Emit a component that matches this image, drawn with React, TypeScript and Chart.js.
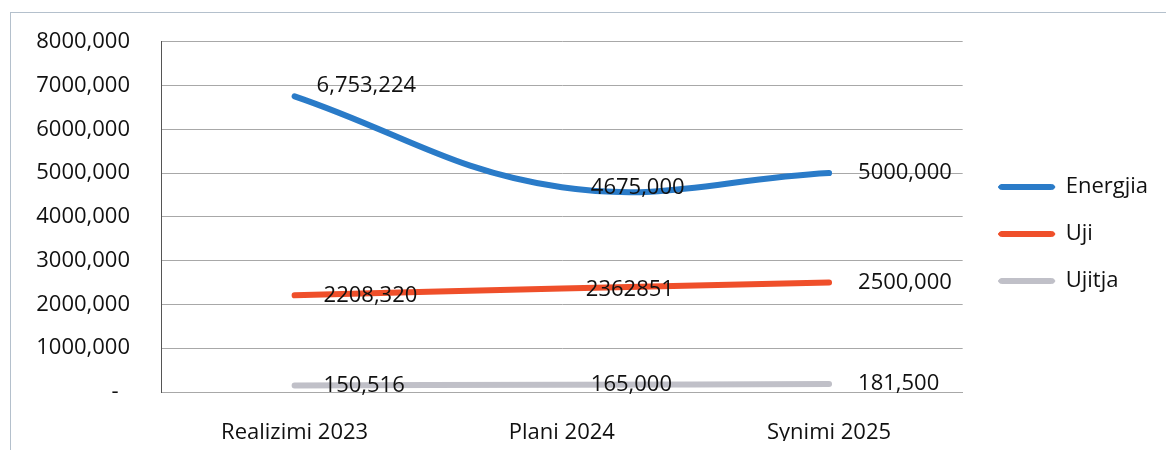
import { useEffect, useRef } from "react";
import { Chart, registerables } from "chart.js";

Chart.register(...registerables);

// ---- data ----
const categories = ["Realizimi 2023", "Plani 2024", "Synimi 2025"];
const seriesNames = ["Energjia", "Uji", "Ujitja"];
const energjia = [6753224, 4675000, 5000000];
const uji = [2208320, 2362851, 2500000];
const ujitja = [150516, 165000, 181500];
const energjiaLabels = ["6,753,224", "4675,000", "5000,000"];
const ujiLabels = ["2208,320", "2362851", "2500,000"];
const ujitjaLabels = ["150,516", "165,000", "181,500"];
const yTickLabels = [
  "-  ",
  "1000,000",
  "2000,000",
  "3000,000",
  "4000,000",
  "5000,000",
  "6000,000",
  "7000,000",
  "8000,000",
];

// ---- styles ----
const FONT = "'Open Sans', 'Noto Sans', sans-serif";
const TEXT = "#111111";
const COLORS = ["#2a7bc8", "#ef4f2a", "#c0c0c8"];
const LABEL_SETS = [energjiaLabels, ujiLabels, ujitjaLabels];
const LABEL_DX = 29;
const LABEL_NUDGE: Record<string, [number, number]> = {
  "0-0": [-7, -11],
  "1-1": [-5, 1],
};

const valueLabels = {
  id: "valueLabels",
  afterDatasetsDraw(chart: any) {
    const ctx = chart.ctx;
    ctx.save();
    ctx.font = `22px ${FONT}`;
    ctx.fillStyle = TEXT;
    ctx.textAlign = "left";
    ctx.textBaseline = "middle";
    chart.data.datasets.forEach((_ds: any, di: number) => {
      const meta = chart.getDatasetMeta(di);
      const labels = LABEL_SETS[di];
      meta.data.forEach((pt: any, i: number) => {
        const [ndx, ndy] = LABEL_NUDGE[`${di}-${i}`] || [0, 0];
        ctx.fillText(labels[i], pt.x + LABEL_DX + ndx, pt.y + ndy);
      });
    });
    ctx.restore();
  },
};

export default function App() {
  const ref = useRef<HTMLCanvasElement | null>(null);

  useEffect(() => {
    document.documentElement.style.overflow = "hidden";
    document.body.style.overflow = "hidden";
    if (!ref.current) return;
    const values = [energjia, uji, ujitja];
    const chart = new Chart(ref.current, {
      type: "line",
      data: {
        labels: categories,
        datasets: seriesNames.map((name, i) => ({
          label: name,
          data: values[i],
          borderColor: COLORS[i],
          backgroundColor: COLORS[i],
          borderWidth: 6,
          borderCapStyle: "round",
          borderJoinStyle: "round",
          tension: 0.4,
          pointRadius: 0,
          pointHoverRadius: 0,
          yAxisID: "y",
        })),
      },
      options: {
        responsive: false,
        animation: false,
        layout: { padding: { left: 0, top: 14, right: 8, bottom: 9 } },
        plugins: {
          tooltip: { enabled: false },
          legend: {
            position: "right",
            labels: {
              boxWidth: 56,
              boxHeight: 5,
              padding: 25,
              color: TEXT,
              font: { family: FONT, size: 22 },
              useBorderRadius: true,
              borderRadius: 3,
              generateLabels: (c: any) =>
                Chart.defaults.plugins.legend.labels
                  .generateLabels(c)
                  .map((it: any) => ({
                    ...it,
                    fillStyle: it.strokeStyle,
                    lineWidth: 1,
                    borderRadius: 3,
                  })),
            },
          },
        },
        scales: {
          x: {
            type: "category",
            offset: true,
            grid: { display: false },
            border: { display: true, color: "#a8a8a8" },
            ticks: {
              color: TEXT,
              padding: 20,
              font: { family: FONT, size: 22 },
              maxRotation: 0,
            },
            afterFit: (s: any) => {
              s.height = 49;
            },
          },
          y: {
            type: "linear",
            position: "left",
            min: 0,
            max: 8000000,
            grid: {
              color: "#a8a8a8",
              lineWidth: 1,
              drawTicks: true,
              tickLength: 15.5,
              tickColor: "rgba(0,0,0,0)",
            },
            border: { display: true, color: "#555555" },
            ticks: {
              stepSize: 1000000,
              padding: 15.5,
              color: TEXT,
              font: { family: FONT, size: 22 },
              callback: (_v: any, i: number) => yTickLabels[i],
            },
            afterFit: (s: any) => {
              s.width = 150;
            },
          },
          spacer: {
            type: "linear",
            position: "right",
            display: true,
            grid: { display: false },
            border: { display: false },
            ticks: { display: false },
            afterFit: (s: any) => {
              s.width = 11;
            },
          },
        },
      } as any,
      plugins: [valueLabels],
    } as any);
    return () => chart.destroy();
  }, []);

  return (
    <div
      style={{
        position: "absolute",
        left: 10,
        top: 12,
        width: 1155,
        height: 437,
        borderTop: "1px solid #b4c0cc",
        borderLeft: "1px solid #b4c0cc",
        background: "#fff",
      }}
    >
      <canvas ref={ref} width={1155} height={437} style={{ display: "block" }} />
    </div>
  );
}
